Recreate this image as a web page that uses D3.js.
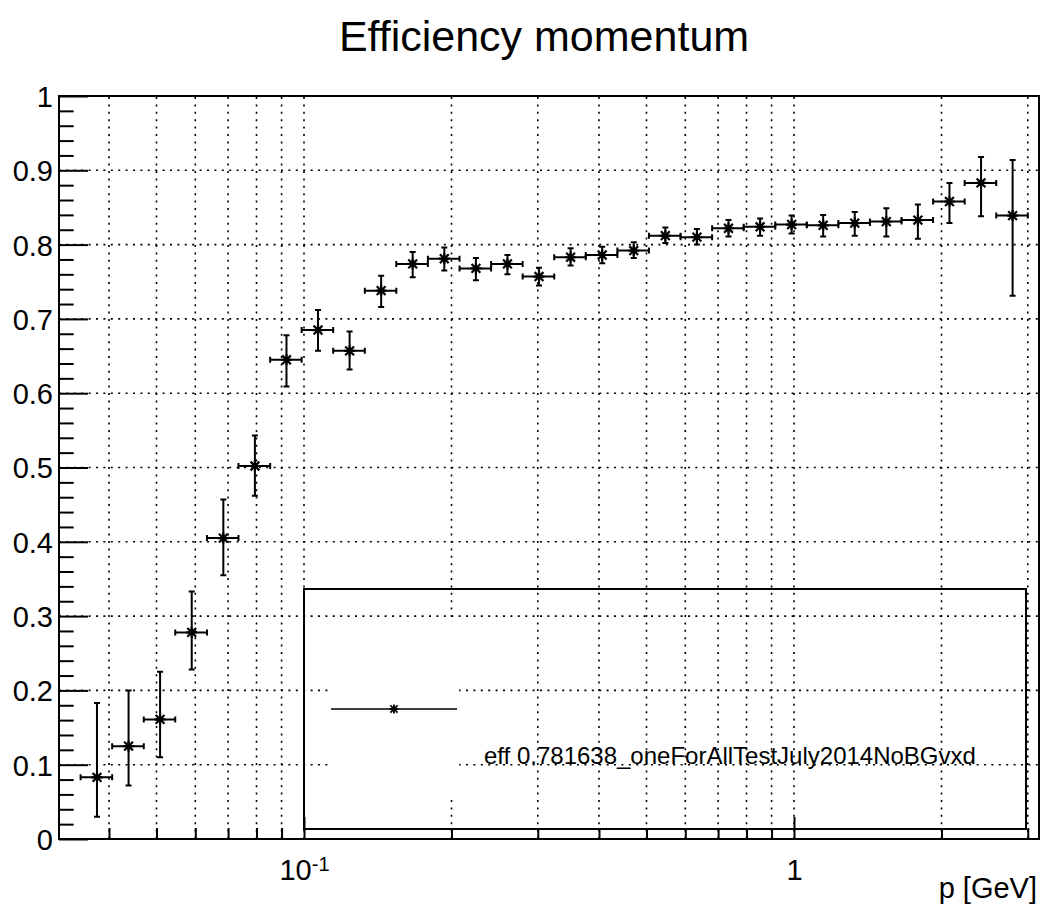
<!DOCTYPE html>
<html>
<head>
<meta charset="utf-8">
<script src="https://cdn.jsdelivr.net/npm/d3@7"></script>
<style>
  body { margin: 0; background: #fff; }
  svg { display: block; font-family: "Liberation Sans", Arial, Helvetica, sans-serif; }
</style>
</head>
<body>
<svg id="chart"></svg>
<script>
// momentum bin edges [GeV] (30 log-spaced bins)
const pEdges = [0.0350, 0.0406, 0.0471, 0.0546, 0.0634, 0.0735, 0.0853, 0.0989,
                0.1147, 0.1331, 0.1543, 0.1790, 0.2077, 0.2409, 0.2794, 0.3241,
                0.3759, 0.4361, 0.5058, 0.5868, 0.6806, 0.7895, 0.9158, 1.0619,
                1.2318, 1.4289, 1.6574, 1.9225, 2.2301, 2.5868, 3.0000];

// efficiency per bin and its lower / upper error bounds
const eff     = [0.083, 0.125, 0.161, 0.278, 0.405, 0.502, 0.645, 0.685, 0.657, 0.738,
                 0.774, 0.781, 0.768, 0.774, 0.757, 0.783, 0.786, 0.792, 0.812, 0.810,
                 0.822, 0.824, 0.827, 0.826, 0.829, 0.831, 0.833, 0.858, 0.883, 0.839];
const effLow  = [0.030, 0.072, 0.110, 0.228, 0.355, 0.462, 0.609, 0.657, 0.632, 0.716,
                 0.756, 0.765, 0.752, 0.760, 0.745, 0.772, 0.775, 0.782, 0.802, 0.800,
                 0.811, 0.812, 0.815, 0.811, 0.812, 0.811, 0.808, 0.829, 0.838, 0.731];
const effHigh = [0.183, 0.200, 0.225, 0.333, 0.457, 0.543, 0.678, 0.712, 0.683, 0.758,
                 0.790, 0.796, 0.782, 0.786, 0.769, 0.795, 0.797, 0.803, 0.823, 0.821,
                 0.833, 0.835, 0.839, 0.840, 0.844, 0.849, 0.854, 0.883, 0.918, 0.914];

const yTicks = [0, 0.1, 0.2, 0.3, 0.4, 0.5, 0.6, 0.7, 0.8, 0.9, 1];
const xMajorTicks = [0.1, 1];
const xMinorTicks = [0.04, 0.05, 0.06, 0.07, 0.08, 0.09,
                     0.2, 0.3, 0.4, 0.5, 0.6, 0.7, 0.8, 0.9, 2, 3];

const titleText = "Efficiency momentum";
const xTitle = "p [GeV]";
const legendLabel = "eff 0.781638_oneForAllTestJuly2014NoBGvxd";

const width = 1043, height = 906;
const frame = { left: 59, right: 1039, top: 96, bottom: 839 };
const fontFamily = '"Liberation Sans", Arial, Helvetica, sans-serif';

const svg = d3.select("#chart").attr("width", width).attr("height", height);

const x = d3.scaleLog()
  .domain([Math.pow(10, -1.5), Math.pow(10, 0.5)])
  .range([frame.left, frame.right]);
const y = d3.scaleLinear()
  .domain([0, 1])
  .range([frame.bottom, frame.top]);

// dotted grid
const grid = svg.append("g")
  .attr("stroke", "#000")
  .attr("stroke-width", 1.6)
  .attr("stroke-dasharray", "2 5.4");
grid.selectAll("line.gx")
  .data(xMajorTicks.concat(xMinorTicks))
  .join("line")
  .attr("class", "gx")
  .attr("x1", d => x(d)).attr("x2", d => x(d))
  .attr("y1", frame.bottom).attr("y2", frame.top);
grid.selectAll("line.gy")
  .data(yTicks.filter(d => d > 0 && d < 1))
  .join("line")
  .attr("class", "gy")
  .attr("x1", frame.left).attr("x2", frame.right)
  .attr("y1", d => y(d)).attr("y2", d => y(d));

// legend box (transparent, only the symbol cell is filled)
const legend = svg.append("g");
legend.append("rect")
  .attr("x", 330).attr("y", 622).attr("width", 129).attr("height", 173)
  .attr("fill", "#fff");
legend.append("rect")
  .attr("x", 304).attr("y", 589).attr("width", 722).attr("height", 240)
  .attr("fill", "none").attr("stroke", "#000").attr("stroke-width", 2);

// axes: ticks point into the frame
function styleAxis(g) {
  g.select(".domain").remove();
  g.attr("font-size", 29).attr("font-family", fontFamily);
  g.selectAll(".tick line").attr("stroke", "#000").attr("stroke-width", 2);
  g.selectAll(".tick text").attr("fill", "#000");
}

const yMinor = d3.range(0, 1.0001, 0.02).filter(v => Math.abs(v * 10 - Math.round(v * 10)) > 1e-6);

svg.append("g")
  .attr("transform", `translate(${frame.left},0)`)
  .call(d3.axisLeft(y).tickValues(yMinor).tickSize(-14.7).tickFormat(""))
  .call(styleAxis);

svg.append("g")
  .attr("transform", `translate(${frame.left},0)`)
  .call(d3.axisLeft(y).tickValues(yTicks).tickSize(-29).tickSizeOuter(0).tickPadding(6)
    .tickFormat(d3.format("~g")))
  .call(styleAxis)
  .call(g => g.selectAll(".tick text").attr("dy", "0.36em"));

svg.append("g")
  .attr("transform", `translate(0,${frame.bottom})`)
  .call(d3.axisBottom(x).tickValues(xMinorTicks).tickSize(-11).tickFormat(""))
  .call(styleAxis);

svg.append("g")
  .attr("transform", `translate(0,${frame.bottom})`)
  .call(d3.axisBottom(x).tickValues(xMajorTicks).tickSize(-22).tickPadding(20)
    .tickFormat(d => d === 1 ? "1" : "10"))
  .call(styleAxis)
  .call(g => g.selectAll(".tick text")
    .filter(d => d < 1)
    .append("tspan").attr("font-size", 20).attr("dy", -9).text("-1"));

// frame
svg.append("rect")
  .attr("x", frame.left).attr("y", frame.top)
  .attr("width", frame.right - frame.left).attr("height", frame.bottom - frame.top)
  .attr("fill", "none").attr("stroke", "#000").attr("stroke-width", 2);

// efficiency points with asymmetric errors
const bins = eff.map((v, i) => ({
  lo: pEdges[i], hi: pEdges[i + 1], p: (pEdges[i] + pEdges[i + 1]) / 2,
  v, eLo: effLow[i], eHi: effHigh[i]
}));

const cap = 3, star = 5.5;
const pts = svg.append("g")
  .attr("stroke", "#000").attr("stroke-width", 2).attr("fill", "none");

pts.selectAll("path.err")
  .data(bins)
  .join("path")
  .attr("class", "err")
  .attr("d", d => {
    const cx = x(d.p), cy = y(d.v);
    const x0 = x(d.lo), x1 = x(d.hi), y0 = y(d.eLo), y1 = y(d.eHi);
    return `M${x0},${cy}H${x1}` +
      `M${x0},${cy - cap}V${cy + cap}M${x1},${cy - cap}V${cy + cap}` +
      `M${cx},${y0}V${y1}` +
      `M${cx - cap},${y0}H${cx + cap}M${cx - cap},${y1}H${cx + cap}`;
  });

function starPath(cx, cy, r) {
  const k = r * 0.8;
  return `M${cx - r},${cy}H${cx + r}M${cx},${cy - r}V${cy + r}` +
    `M${cx - k},${cy - k}L${cx + k},${cy + k}M${cx - k},${cy + k}L${cx + k},${cy - k}`;
}

pts.selectAll("path.marker")
  .data(bins)
  .join("path")
  .attr("class", "marker")
  .attr("stroke-width", 2.2)
  .attr("d", d => starPath(x(d.p), y(d.v), star));

// legend entry
legend.append("line")
  .attr("x1", 331).attr("x2", 457).attr("y1", 709).attr("y2", 709)
  .attr("stroke", "#000").attr("stroke-width", 1.5);
legend.append("path")
  .attr("d", starPath(394, 709, 4.5))
  .attr("stroke", "#000").attr("stroke-width", 1.8).attr("fill", "none");
legend.append("text")
  .attr("x", 484).attr("y", 764)
  .attr("font-size", 24)
  .text(legendLabel);

// titles
svg.append("text")
  .attr("x", 544).attr("y", 51)
  .attr("text-anchor", "middle")
  .attr("font-size", 43)
  .text(titleText);

svg.append("text")
  .attr("x", 1037).attr("y", 898)
  .attr("text-anchor", "end")
  .attr("font-size", 29)
  .text(xTitle);
</script>
</body>
</html>
